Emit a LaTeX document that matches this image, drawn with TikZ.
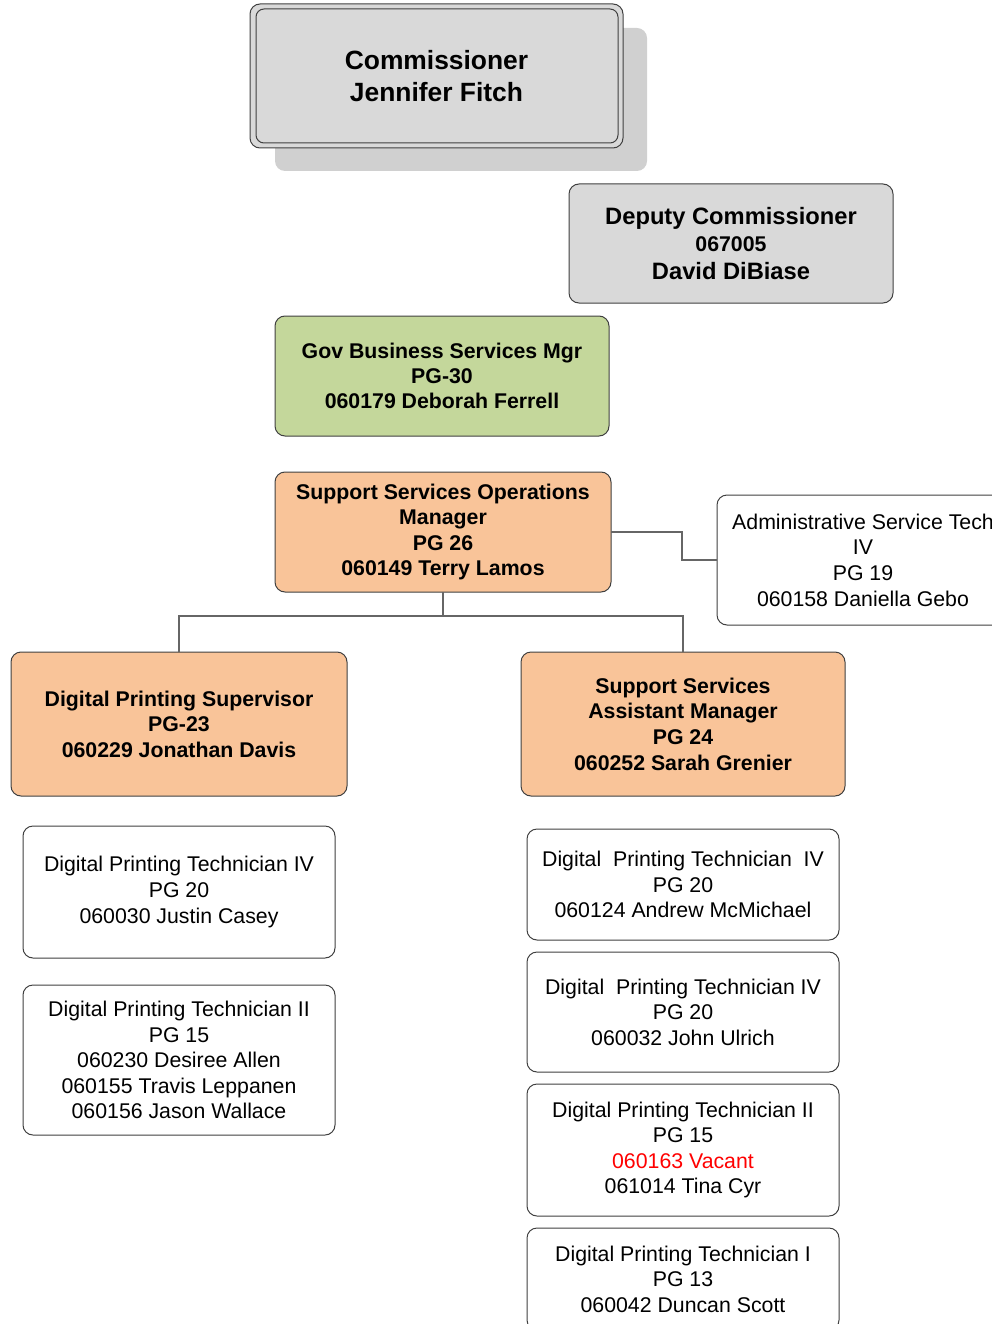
\documentclass[tikz,border=0pt]{standalone}
\usepackage{fontspec}
\setmainfont{Liberation Sans}
\begin{document}
\begin{tikzpicture}[x=1pt,y=-1pt,
  every node/.style={inner sep=0pt, outer sep=0pt},
  box/.style={draw=black!75, line width=1pt, rounded corners=10pt, align=center, anchor=center},
  posbox/.style={box, fill=white, font=\fontsize{21.3}{25.6}\selectfont},
  greybox/.style={box, fill=boxgrey},
  greenbox/.style={box, fill=boxgreen, font=\fontsize{21.3}{25.2}\selectfont\bfseries},
  orangebox/.style={box, fill=boxorange, font=\fontsize{21.3}{25.6}\selectfont\bfseries},
  link/.style={draw=black!60, line width=1.2pt}
]
\definecolor{boxgrey}{HTML}{D9D9D9}
\definecolor{shadowgrey}{HTML}{D0D0D0}
\definecolor{boxgreen}{HTML}{C4D79B}
\definecolor{boxorange}{HTML}{F9C499}
\useasboundingbox (0,0) rectangle (992,1324);

% Commissioner, with drop shadow and double frame
\fill[shadowgrey, rounded corners=10pt] (275,28) rectangle (647,171);
\node[greybox, minimum width=373pt, minimum height=144pt,
      font=\fontsize{26.4}{32}\selectfont\bfseries] (comm) at (436.5,76) {Commissioner\\Jennifer Fitch};
\draw[draw=black!75, line width=1pt, rounded corners=8pt] (256,9) rectangle (618,143);

% Deputy Commissioner
\node[greybox, minimum width=324pt, minimum height=119pt,
      font=\fontsize{23.7}{27.5}\selectfont\bfseries] (dep) at (731,243.5) {Deputy Commissioner\\{\fontsize{21.3}{27.5}\selectfont 067005}\\David DiBiase};

% Management chain
\node[greenbox, minimum width=334pt, minimum height=120pt] (gov) at (442,376)
  {Gov Business Services Mgr\\PG-30\\060179 Deborah Ferrell};
\node[orangebox, minimum width=336pt, minimum height=120pt] (ssom) at (443,532)
  {Support Services Operations\\Manager\\PG 26\\060149 Terry Lamos};
\node[posbox, minimum width=292pt, minimum height=130pt] (adm) at (863,560)
  {Administrative Service Tech\\IV\\PG 19\\060158 Daniella Gebo};

\node[orangebox, minimum width=336pt, minimum height=144pt] (dps) at (179,724)
  {Digital Printing Supervisor\\PG-23\\060229 Jonathan Davis};
\node[orangebox, minimum width=324pt, minimum height=144pt] (ssam) at (683,724)
  {Support Services\\Assistant Manager\\PG 24\\060252 Sarah Grenier};

% Connectors
\draw[link] (ssom.east) -- ++(71,0) |- (adm.west);
\draw[link] (ssom.south) -- ++(0,24) -| (dps.north);
\draw[link] (ssom.south) -- ++(0,24) -| (ssam.north);

% Staff under the Digital Printing Supervisor
\node[posbox, minimum width=312pt, minimum height=132pt] (t1) at (179,892)
  {Digital Printing Technician IV\\PG 20\\060030 Justin Casey};
\node[posbox, minimum width=312pt, minimum height=150pt] (t2) at (179,1060)
  {Digital Printing Technician II\\PG 15\\060230 Desiree Allen\\060155 Travis Leppanen\\060156 Jason Wallace};

% Staff under the Assistant Manager
\node[posbox, minimum width=312pt, minimum height=111pt] (t3) at (683,884.5)
  {Digital\ \ Printing Technician\ \ IV\\PG 20\\060124 Andrew McMichael};
\node[posbox, minimum width=312pt, minimum height=120pt] (t4) at (683,1012)
  {Digital\ \ Printing Technician IV\\PG 20\\060032 John Ulrich};
\node[posbox, minimum width=312pt, minimum height=132pt] (t5) at (683,1150)
  {Digital Printing Technician II\\PG 15\\\textcolor{red}{060163 Vacant}\\061014 Tina Cyr};
\node[posbox, minimum width=312pt, minimum height=102pt] (t6) at (683,1279)
  {Digital Printing Technician I\\PG 13\\060042 Duncan Scott};
\end{tikzpicture}
\end{document}
